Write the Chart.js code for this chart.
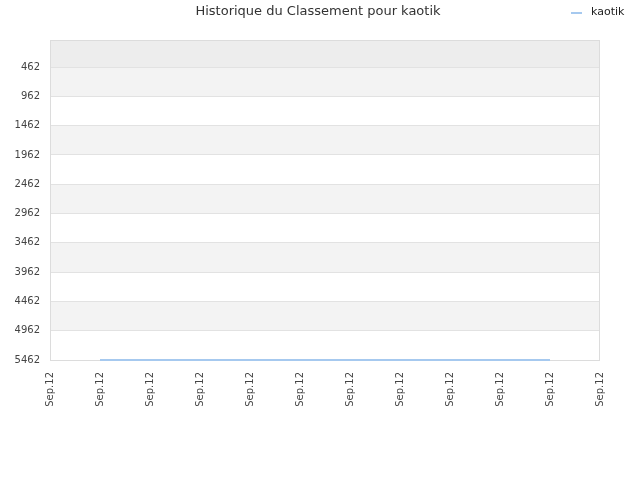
<!DOCTYPE html>
<html>
<head>
<meta charset="utf-8">
<script src="https://cdn.jsdelivr.net/npm/chart.js@4/dist/chart.umd.min.js"></script>
<style>
  html, body { margin: 0; padding: 0; background: #fff; }
  #wrap { width: 640px; height: 480px; }
</style>
</head>
<body>
<div id="wrap"><canvas id="rankChart" width="640" height="480"></canvas></div>
<script>
const chartTitle = "Historique du Classement pour kaotik";
const seriesName = "kaotik";
const dates = ["Sep.12", "Sep.12", "Sep.12", "Sep.12", "Sep.12", "Sep.12",
               "Sep.12", "Sep.12", "Sep.12", "Sep.12", "Sep.12", "Sep.12"];
const ranks = [null, 5462, 5462, 5462, 5462, 5462, 5462, 5462, 5462, 5462, 5462, null];
const yTicks = [462, 962, 1462, 1962, 2462, 2962, 3462, 3962, 4462, 4962, 5462];
const yMin = 0;
const yMax = 5462;

const lineColor = "#a6c9ef";
const font = "DejaVu Sans";

// alternate grey bands between ticks, darker band above the first tick
const bandsPlugin = {
  id: "bands",
  beforeDraw(chart) {
    const { ctx, chartArea: a, scales: { y } } = chart;
    ctx.save();
    ctx.fillStyle = "#ededed";
    const first = y.getPixelForValue(yTicks[0]);
    ctx.fillRect(a.left, a.top, a.right - a.left, first - a.top);
    for (let i = 0; i < yTicks.length - 1; i += 2) {
      const t = y.getPixelForValue(yTicks[i]);
      const b = y.getPixelForValue(yTicks[i + 1]);
      ctx.fillStyle = "#f3f3f3";
      ctx.fillRect(a.left, t, a.right - a.left, b - t);
    }
    ctx.restore();
  },
  beforeDatasetsDraw(chart) {
    const { ctx, chartArea: a } = chart;
    ctx.save();
    ctx.strokeStyle = "#dcdcdc";
    ctx.lineWidth = 1;
    ctx.strokeRect(a.left + 0.5, a.top + 0.5, a.right - a.left - 1, a.bottom - a.top);
    ctx.restore();
  },
  afterDraw(chart) {
    const { ctx } = chart;
    ctx.save();
    ctx.fillStyle = "#333";
    ctx.font = "13px " + font;
    ctx.textAlign = "center";
    ctx.textBaseline = "middle";
    ctx.fillText(chartTitle, 318, 12);

    ctx.strokeStyle = lineColor;
    ctx.lineWidth = 2;
    ctx.beginPath();
    ctx.moveTo(571, 13);
    ctx.lineTo(582, 13);
    ctx.stroke();
    ctx.fillStyle = "#222";
    ctx.font = "11px " + font;
    ctx.textAlign = "left";
    ctx.fillText(seriesName, 591, 12);
    ctx.restore();
  }
};

new Chart(document.getElementById("rankChart"), {
  type: "line",
  data: {
    labels: dates,
    datasets: [{
      label: seriesName,
      data: ranks,
      borderColor: lineColor,
      borderWidth: 2,
      pointRadius: 0,
      tension: 0,
      fill: false,
      clip: false
    }]
  },
  options: {
    responsive: false,
    animation: false,
    layout: { padding: { top: 40, right: 40, left: 0, bottom: 0 } },
    plugins: {
      legend: { display: false },
      title: { display: false },
      tooltip: { enabled: false }
    },
    scales: {
      x: {
        offset: false,
        grid: { display: false },
        border: { display: false },
        ticks: {
          color: "#444",
          font: { family: font, size: 10 },
          minRotation: 90,
          maxRotation: 90,
          autoSkip: false,
          padding: 4
        },
        afterFit(scale) { scale.height = 120; }
      },
      y: {
        reverse: true,
        min: yMin,
        max: yMax,
        afterBuildTicks(scale) {
          scale.ticks = yTicks.map(v => ({ value: v }));
        },
        grid: { color: "#e2e2e2", drawTicks: false },
        border: { display: false },
        ticks: {
          color: "#444",
          font: { family: font, size: 10 },
          padding: 10,
          callback: v => String(v)
        },
        afterFit(scale) { scale.width = 50; }
      }
    }
  },
  plugins: [bandsPlugin]
});
</script>
</body>
</html>
